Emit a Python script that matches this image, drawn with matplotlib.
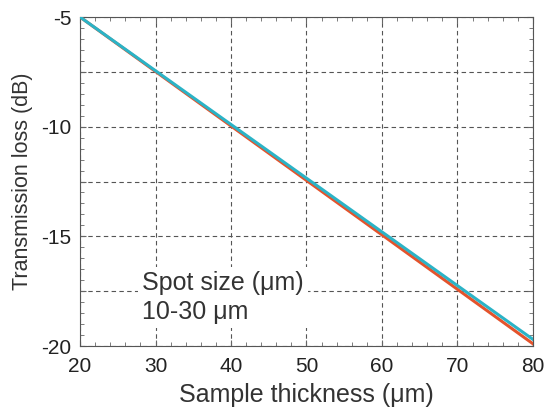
import numpy as np
import matplotlib
matplotlib.use("Agg")
import matplotlib.pyplot as plt
from matplotlib.ticker import MultipleLocator

plt.rcParams['font.family'] = ['Liberation Sans', 'DejaVu Sans']

thickness = [20, 80]
loss_red = [-5.0, -19.9]
loss_cyan = [-5.0, -19.7]
y_ticks = [-20, -17.5, -15, -12.5, -10, -7.5, -5]
y_labels = ['-20', '', '-15', '', '-10', '', '-5']

fig = plt.figure(figsize=(5.48, 4.13), dpi=100)
ax = fig.add_axes([80 / 548, 1 - 346 / 413, 453 / 548, 329 / 413])

ax.plot(thickness, loss_red, color='#e4532c', lw=2.2, zorder=3)
ax.plot(thickness, loss_cyan, color='#2bb3c6', lw=2.2, zorder=3)

ax.set_xlim(20, 80)
ax.set_ylim(-20, -5)
ax.xaxis.set_major_locator(MultipleLocator(10))
ax.xaxis.set_minor_locator(MultipleLocator(2))
ax.yaxis.set_minor_locator(MultipleLocator(0.5))
ax.set_yticks(y_ticks)
ax.set_yticklabels(y_labels)

ax.grid(True, which='major', ls=(0, (4, 3)), color='#555555', lw=0.8)
ax.tick_params(which='both', direction='in', top=True, right=True,
               labelsize=15, color='#666666', labelcolor='#222222')
ax.tick_params(axis='x', pad=8)
ax.tick_params(axis='y', pad=6)
ax.tick_params(which='major', length=4)
ax.tick_params(which='minor', length=3)
for s in ax.spines.values():
    s.set_color('#555555')

ax.set_xlabel('Sample thickness (\u03bcm)', fontsize=18, labelpad=5, color='#333333')
ax.set_ylabel('Transmission loss (dB)', fontsize=15.5, labelpad=6, color='#333333')

ax.text(28.2, -17.8, 'Spot size (\u03bcm)\n10-30 \u03bcm', fontsize=18, va='center',
        color='#333333', linespacing=1.25, zorder=2,
        bbox=dict(facecolor='white', edgecolor='none', pad=3))

fig.savefig('out.png', dpi=100)
